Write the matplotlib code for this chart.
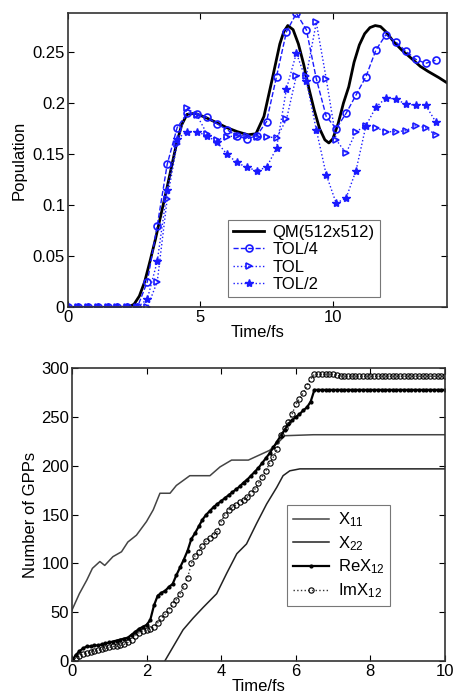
import matplotlib
matplotlib.use("Agg")
import matplotlib.pyplot as plt

plt.rcParams['font.family'] = ['Liberation Sans', 'DejaVu Sans']
plt.rcParams['mathtext.fontset'] = 'custom'
plt.rcParams['mathtext.rm'] = 'Liberation Sans'
plt.rcParams['mathtext.it'] = 'Liberation Sans'

# ---------------- top panel data ----------------
qm_t = [0, 2.0, 2.3, 2.5, 2.7, 2.9, 3.1, 3.3, 3.5, 3.7, 3.9, 4.1, 4.3, 4.5, 4.8,
        5.2, 5.6, 6.0, 6.4, 6.8, 7.1, 7.4, 7.7, 8.0, 8.15, 8.3, 8.5, 8.7, 8.9,
        9.1, 9.3, 9.5, 9.7, 9.85, 10.0, 10.2, 10.4, 10.6, 10.8, 11.0, 11.2, 11.4,
        11.6, 11.8, 12.0, 12.3, 12.6, 13.0, 13.3, 13.6, 14.0, 14.3]
qm_v = [0, 0, 0.0005, 0.003, 0.011, 0.025, 0.045, 0.066, 0.089, 0.112, 0.136,
        0.16, 0.179, 0.189, 0.19, 0.186, 0.181, 0.176, 0.172, 0.169, 0.17, 0.187,
        0.222, 0.258, 0.27, 0.276, 0.272, 0.258, 0.238, 0.214, 0.193, 0.175,
        0.164, 0.161, 0.165, 0.18, 0.2, 0.216, 0.24, 0.257, 0.268, 0.274, 0.276,
        0.275, 0.27, 0.26, 0.252, 0.243, 0.236, 0.231, 0.225, 0.22]

tol_t = [0.0, 0.375, 0.75, 1.125, 1.5, 1.875, 2.25, 2.625, 3.0, 3.375, 3.75,
         4.125, 4.5, 4.875, 5.25, 5.625, 6.0, 6.375, 6.75, 7.125, 7.5, 7.875,
         8.25, 8.625, 9.0, 9.375, 9.75, 10.125, 10.5, 10.875, 11.25, 11.625,
         12.0, 12.375, 12.75, 13.125, 13.5, 13.875]
tol4_v = [0, 0, 0, 0, 0, 0, 0, 0, 0.025, 0.08, 0.14, 0.176, 0.19, 0.189, 0.186,
          0.18, 0.174, 0.168, 0.165, 0.168, 0.182, 0.226, 0.27, 0.288, 0.272,
          0.224, 0.187, 0.175, 0.19, 0.208, 0.226, 0.252, 0.267, 0.26, 0.251,
          0.243, 0.239, 0.242]
tol1_v = [0, 0, 0, 0, 0, 0, 0, 0, 0, 0.025, 0.106, 0.16, 0.195, 0.188, 0.17,
          0.164, 0.167, 0.168, 0.168, 0.167, 0.167, 0.166, 0.184, 0.227, 0.227,
          0.279, 0.224, 0.164, 0.151, 0.172, 0.178, 0.176, 0.172, 0.172, 0.173,
          0.178, 0.176, 0.169]
tol2_v = [0, 0, 0, 0, 0, 0, 0, 0, 0.008, 0.045, 0.115, 0.165, 0.172, 0.172,
          0.168, 0.162, 0.15, 0.142, 0.137, 0.134, 0.137, 0.156, 0.214, 0.249,
          0.222, 0.174, 0.13, 0.102, 0.107, 0.134, 0.178, 0.196, 0.205, 0.204,
          0.199, 0.198, 0.198, 0.182]

# ---------------- bottom panel data ----------------
x11_t = [0, 0.2, 0.4, 0.55, 0.75, 0.88, 1.1, 1.33, 1.5, 1.73, 2.0, 2.18, 2.36,
         2.63, 2.8, 3.16, 3.7, 3.97, 4.28, 4.73, 4.9, 5.3, 5.58, 5.71, 6.47, 10]
x11_v = [52, 69, 83, 95, 102, 98, 107, 112, 122, 129, 143, 155, 172, 172, 180,
         190, 190, 199, 206, 206, 209, 216, 226, 231, 232, 232]
x22_t = [2.49, 2.72, 2.98, 3.25, 3.52, 3.88, 4.15, 4.42, 4.68, 4.95, 5.22, 5.49,
         5.66, 5.84, 6.11, 10]
x22_v = [0, 15, 32, 44, 55, 69, 90, 110, 120, 141, 161, 178, 190, 195, 197, 197]

x12_t = [0.0, 0.1, 0.2, 0.3, 0.4, 0.5, 0.6, 0.7, 0.8, 0.9, 1.0, 1.1, 1.2, 1.3,
         1.4, 1.5, 1.6, 1.7, 1.8, 1.9, 2.0, 2.1, 2.2, 2.3, 2.4, 2.5, 2.6, 2.7,
         2.8, 2.9, 3.0, 3.1, 3.2, 3.3, 3.4, 3.5, 3.6, 3.7, 3.8, 3.9, 4.0, 4.1,
         4.2, 4.3, 4.4, 4.5, 4.6, 4.7, 4.8, 4.9, 5.0, 5.1, 5.2, 5.3, 5.4, 5.5,
         5.6, 5.7, 5.8, 5.9, 6.0, 6.1, 6.2, 6.3, 6.4, 6.5, 6.6, 6.7, 6.8, 6.9,
         7.0, 7.1, 7.2, 7.3, 7.4, 7.5, 7.6, 7.7, 7.8, 7.9, 8.0, 8.1, 8.2, 8.3,
         8.4, 8.5, 8.6, 8.7, 8.8, 8.9, 9.0, 9.1, 9.2, 9.3, 9.4, 9.5, 9.6, 9.7,
         9.8, 9.9, 10.0]
rex12_v = [0, 6, 10, 13, 15, 15, 16, 16, 17, 18, 19, 20, 21, 22, 23, 24, 27, 30,
           33, 35, 37, 42, 57, 67, 70, 72, 76, 79, 88, 96, 104, 113, 125, 131,
           138, 145, 150, 154, 158, 161, 164, 167, 170, 173, 176, 179, 183, 186,
           190, 194, 198, 203, 208, 213, 219, 225, 231, 237, 243, 247, 250, 253,
           257, 260, 266, 278, 278, 278, 278, 278, 278, 278, 278, 278, 278, 278,
           278, 278, 278, 278, 278, 278, 278, 278, 278, 278, 278, 278, 278, 278,
           278, 278, 278, 278, 278, 278, 278, 278, 278, 278, 278]
imx12_v = [0, 3, 5, 7, 8, 9, 10, 11, 12, 13, 14, 15, 15, 16, 17, 19, 22, 26, 29,
           31, 32, 33, 35, 39, 44, 48, 52, 58, 63, 69, 77, 85, 100, 108, 112, 118,
           123, 126, 129, 133, 143, 150, 155, 158, 160, 163, 165, 168, 172, 176,
           182, 189, 195, 203, 209, 217, 232, 239, 245, 253, 263, 269, 275, 282,
           289, 294, 294, 294, 294, 294, 294, 293, 292, 292, 292, 292, 292, 292,
           292, 292, 292, 292, 292, 292, 292, 292, 292, 292, 292, 292, 292, 292,
           292, 292, 292, 292, 292, 292, 292, 292, 292]

FS = 12
fig = plt.figure(figsize=(4.55, 7.0), dpi=100)

# ---------- top ----------
ax1 = fig.add_axes([0.149, 0.561, 0.833, 0.420])
ax1.plot(qm_t, qm_v, '-', color='black', lw=2.0, label='QM(512x512)')
ax1.plot(tol_t, tol4_v, '--', color='#1a1aff', lw=1.0, marker='o', ms=5,
         mfc='none', mec='#1a1aff', mew=1.2, label='TOL/4')
ax1.plot(tol_t, tol1_v, ':', color='#1a1aff', lw=1.0, marker='>', ms=5,
         mfc='none', mec='#1a1aff', mew=1.2, label='TOL')
ax1.plot(tol_t, tol2_v, ':', color='#1a1aff', lw=1.0, marker='*', ms=6,
         mfc='#1a1aff', mec='#1a1aff', label='TOL/2')
ax1.set_xlim(0, 14.3)
ax1.set_ylim(0, 0.288)
ax1.set_xticks([0, 5, 10])
ax1.set_xticklabels(['0', '5', '10'])
ax1.set_yticks([0, 0.05, 0.1, 0.15, 0.2, 0.25])
ax1.set_yticklabels(['0', '0.05', '0.1', '0.15', '0.2', '0.25'])
ax1.set_xlabel('Time/fs', fontsize=FS, labelpad=0)
ax1.set_ylabel('Population', fontsize=FS, labelpad=4)
leg1 = ax1.legend(loc='lower left', bbox_to_anchor=(0.422, 0.034), fontsize=FS,
                  frameon=True, fancybox=False, edgecolor='#555555',
                  handlelength=1.9, borderpad=0.3, labelspacing=0.15,
                  handletextpad=0.5, borderaxespad=0)
leg1.get_frame().set_linewidth(0.8)

# ---------- bottom ----------
ax2 = fig.add_axes([0.158, 0.0557, 0.820, 0.418])
ax2.plot(x11_t, x11_v, '-', color='#444444', lw=1.1, label='X$_{11}$')
ax2.plot(x22_t, x22_v, '-', color='#222222', lw=1.1, label='X$_{22}$')
ax2.plot(x12_t, rex12_v, '-', color='black', lw=1.6, marker='.', ms=4,
         label='ReX$_{12}$')
ax2.plot(x12_t, imx12_v, ':', color='#333333', lw=1.0, marker='o', ms=3.8,
         mfc='none', mec='black', mew=0.8, label='ImX$_{12}$')
ax2.set_xlim(0, 10)
ax2.set_ylim(0, 300)
ax2.set_xticks([0, 2, 4, 6, 8, 10])
ax2.set_yticks([0, 50, 100, 150, 200, 250, 300])
ax2.set_xlabel('Time/fs', fontsize=FS, labelpad=0)
ax2.set_ylabel('Number of GPPs', fontsize=FS, labelpad=2)
leg2 = ax2.legend(loc='lower left', bbox_to_anchor=(0.576, 0.188), fontsize=FS,
                  frameon=True, fancybox=False, edgecolor='#555555',
                  handlelength=2.2, borderpad=0.35, labelspacing=0.3,
                  handletextpad=0.5, borderaxespad=0)
leg2.get_frame().set_linewidth(0.8)

for ax in (ax1, ax2):
    ax.tick_params(direction='in', top=True, right=True, labelsize=FS,
                   length=4, width=0.8, pad=2)
    for s in ax.spines.values():
        s.set_linewidth(1.2)
        s.set_color('#333333')

fig.savefig('out.png', dpi=100)
